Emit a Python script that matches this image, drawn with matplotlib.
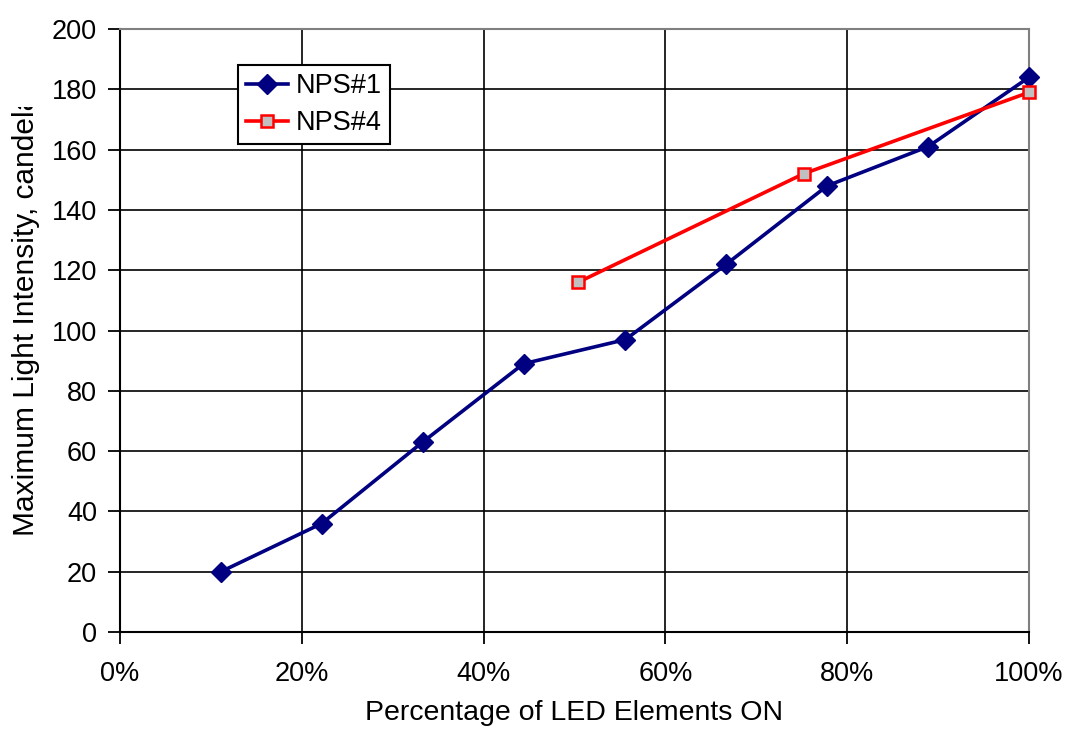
import matplotlib
matplotlib.use("Agg")
import matplotlib.pyplot as plt
from matplotlib.ticker import FuncFormatter
from matplotlib.transforms import Bbox

plt.rcParams["font.family"] = ["Liberation Sans", "DejaVu Sans"]

# ---------- data ----------
nps1_x = [11.1, 22.2, 33.3, 44.4, 55.6, 66.7, 77.8, 88.9, 100.0]
nps1_y = [20, 36, 63, 89, 97, 122, 148, 161, 184]
nps4_x = [50.4, 75.2, 100.0]
nps4_y = [116, 152, 179]

fig = plt.figure(figsize=(10.7, 7.41), dpi=100)
ax = fig.add_axes([0.112, 0.147, 0.8497, 0.8138])

ax.plot(nps1_x, nps1_y, color="#000080", lw=2.6, marker="D", ms=10,
        mfc="#000080", mec="#000080", label="NPS#1", zorder=3, clip_on=False)
ax.plot(nps4_x, nps4_y, color="#ff0000", lw=2.6, marker="s", ms=8,
        mfc="#c0c0c0", mec="#ff0000", mew=1.8, label="NPS#4", zorder=3, clip_on=False)

ax.set_xlim(0, 100)
ax.set_ylim(0, 200)
ax.set_xticks(range(0, 101, 20))
ax.set_yticks(range(0, 201, 20))
ax.xaxis.set_major_formatter(FuncFormatter(lambda v, p: f"{v:.0f}%"))
ax.grid(True, color="black", lw=1.2)
ax.set_axisbelow(True)
ax.tick_params(labelsize=19.5, length=8.5, width=1.3, color="black", pad=8)
ax.tick_params(axis="x", pad=12.5)
for s in ("left", "bottom"):
    ax.spines[s].set_color("black")
    ax.spines[s].set_linewidth(1.5)
for s in ("top", "right"):
    ax.spines[s].set_color("#808080")
    ax.spines[s].set_linewidth(1.5)

ax.set_xlabel("Percentage of LED Elements ON", fontsize=20.5, labelpad=9)

# y label cut off at the top like in the original
lab = fig.text(26 / 1070, 1 - 536 / 741, "Maximum Light Intensity, candela",
               rotation=90, fontsize=21.5, ha="center", va="bottom")
lab.set_clip_box(Bbox.from_extents(0, 0, 1070, 741 - 107))
lab.set_clip_on(True)

leg = ax.legend(loc="upper left", bbox_to_anchor=(0.1298, 0.940), fontsize=19.5,
                frameon=True, fancybox=False, borderpad=0.3, borderaxespad=0,
                handlelength=1.55, handletextpad=0.3, labelspacing=0.4)
leg.get_frame().set_edgecolor("black")
leg.get_frame().set_linewidth(1.5)
leg.get_frame().set_alpha(1)

fig.savefig("out.png", dpi=100)
